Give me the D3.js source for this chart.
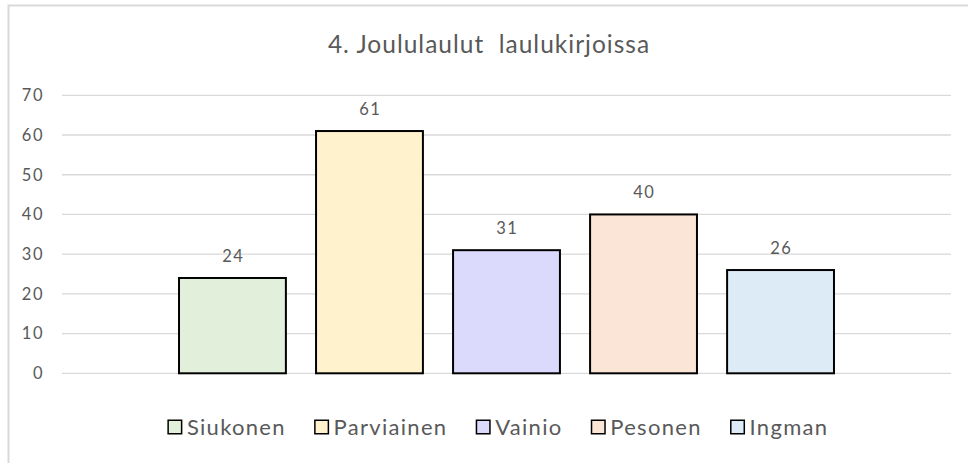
<!DOCTYPE html>
<html>
<head>
<meta charset="utf-8">
<script src="https://cdn.jsdelivr.net/npm/d3@7"></script>
<style>
  body { margin: 0; background: #fff; }
  text { font-family: Lato, "Open Sans", sans-serif; fill: #595959; }
</style>
</head>
<body>
<div id="chart"></div>
<script>
// chart data
const series = ["Siukonen", "Parviainen", "Vainio", "Pesonen", "Ingman"];
const values = [24, 61, 31, 40, 26];
const colors = ["#e2efda", "#fff2cc", "#dcdafc", "#fbe5d6", "#ddebf7"];
const yTicks = [0, 10, 20, 30, 40, 50, 60, 70];
const title = "4. Joululaulut  laulukirjoissa";

const width = 968, height = 463;
const plot = { left: 62, right: 951, top: 95.3, bottom: 373.3 };

let svg = d3.select("#chart")
    .append("svg")
    .attr("width", width)
    .attr("height", height);

// chart area border (runs off the right and bottom edge)
svg.append("rect")
    .attr("x", 8.5).attr("y", 5.5)
    .attr("width", 1000).attr("height", 500)
    .attr("fill", "#fff")
    .attr("stroke", "#d9d9d9")
    .attr("stroke-width", 2);

// scales
let y = d3.scaleLinear()
    .domain([0, 70])
    .range([plot.bottom, plot.top]);

let x = d3.scaleBand()
    .domain(series)
    .range([plot.left, plot.right])
    .paddingInner(0.22)
    .paddingOuter(0.854);

let color = d3.scaleOrdinal()
    .domain(series)
    .range(colors);

// gridlines
svg.append("g")
    .selectAll("line")
    .data(yTicks)
    .enter()
    .append("line")
    .attr("x1", plot.left)
    .attr("x2", plot.right)
    .attr("y1", d => y(d))
    .attr("y2", d => y(d))
    .attr("stroke", "#d9d9d9")
    .attr("stroke-width", 1.3);

// y axis labels
let yAxis = svg.append("g")
    .attr("transform", `translate(${plot.left}, 0)`)
    .call(d3.axisLeft(y).tickValues(yTicks).tickSize(0).tickPadding(18));
yAxis.select(".domain").remove();
yAxis.selectAll("text")
    .style("font-size", "16.5px")
    .style("letter-spacing", "1.5px")
    .attr("fill", "#595959");

// bars
let data = series.map((s, i) => ({ name: s, value: values[i] }));

svg.append("g")
    .selectAll("rect")
    .data(data)
    .enter()
    .append("rect")
    .attr("x", d => x(d.name))
    .attr("y", d => y(d.value))
    .attr("width", x.bandwidth())
    .attr("height", d => y(0) - y(d.value))
    .attr("fill", d => color(d.name))
    .attr("stroke", "#000")
    .attr("stroke-width", 2);

// value labels
svg.append("g")
    .selectAll("text")
    .data(data)
    .enter()
    .append("text")
    .attr("x", d => x(d.name) + x.bandwidth() / 2 + 0.75)
    .attr("y", d => y(d.value) - 16)
    .style("text-anchor", "middle")
    .style("font-size", "16.5px")
    .style("letter-spacing", "1.5px")
    .text(d => d.value);

// title
svg.append("text")
    .attr("x", 489)
    .attr("y", 53)
    .style("text-anchor", "middle")
    .style("font-size", "24.5px")
    .style("letter-spacing", "1px")
    .style("white-space", "pre")
    .text(title);

// legend, centred under the plot
let legend = svg.append("g");
let items = legend.selectAll("g")
    .data(series)
    .enter()
    .append("g");

items.append("rect")
    .attr("x", 0.75)
    .attr("width", 13.5).attr("height", 13.5)
    .attr("y", -6.75)
    .attr("fill", d => color(d))
    .attr("stroke", "#000")
    .attr("stroke-width", 1.5);

items.append("text")
    .attr("x", 19.5)
    .attr("y", 7.5)
    .style("font-size", "22px")
    .style("letter-spacing", "1.3px")
    .text(d => d);

let gap = 29;
let pos = 0;
items.each(function () {
    let w = this.getBBox().width;
    d3.select(this).attr("data-x", pos);
    pos += w + gap;
});
let total = pos - gap;
let startX = 497.5 - total / 2;
items.attr("transform", function () {
    return `translate(${startX + (+d3.select(this).attr("data-x"))}, 427)`;
});
</script>
</body>
</html>
